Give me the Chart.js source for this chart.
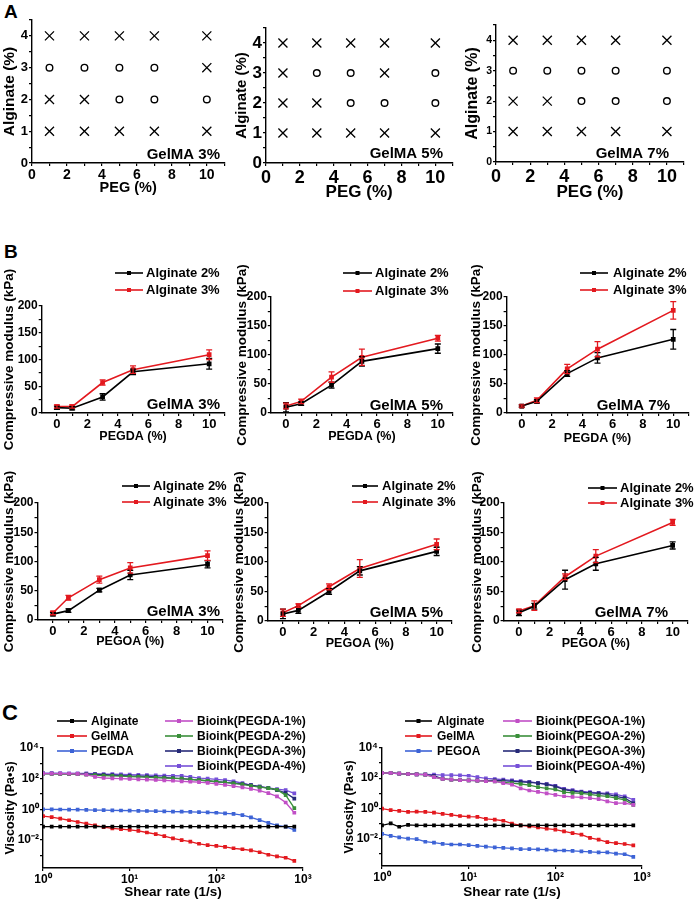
<!DOCTYPE html>
<html>
<head>
<meta charset="utf-8">
<script src="https://cdn.jsdelivr.net/npm/chart.js@4.4.1/dist/chart.umd.min.js"></script>
<style>
  html, body { margin: 0; padding: 0; background: #fff; }
  #fig { position: relative; width: 694px; height: 900px; overflow: hidden; font-family: "Liberation Sans", Arial, sans-serif; }
  #fig canvas { position: absolute; }
  .letter { position: absolute; font-weight: bold; line-height: 1; color: #000; }
</style>
</head>
<body>
<div id="fig">
  <div class="letter" style="left:4px;top:2px;font-size:19px;">A</div>
  <div class="letter" style="left:4px;top:242px;font-size:19px;">B</div>
  <div class="letter" style="left:2px;top:702px;font-size:22px;">C</div>
</div>
<script>
// ---------- A: printability (x = not printable, o = printable) ----------
const PEG_LEVELS = [1, 3, 5, 7, 10];
const ALGINATE_LEVELS = [1, 2, 3, 4];
// one string per alginate level (1..4), one char per PEG level
const GRID_GELMA3 = ['xxxxx', 'xxooo', 'oooox', 'xxxxx'];
const GRID_GELMA5 = ['xxxxx', 'xxooo', 'xooxo', 'xxxxx'];
const GRID_GELMA7 = ['xxxxx', 'xxooo', 'ooooo', 'xxxxx'];
const A_X_TICKS = [0, 1, 2, 3, 4, 5, 6, 7, 8, 9, 10, 11];
const A_Y_TICKS = [0, 0.5, 1, 1.5, 2, 2.5, 3, 3.5, 4, 4.5];

// ---------- B: compressive modulus (kPa) ----------
const PEG_CONC = [0, 1, 3, 5, 10];
const B_X_TICKS = [0, 1, 2, 3, 4, 5, 6, 7, 8, 9, 10, 11];
const B_Y_TICKS = [0, 25, 50, 75, 100, 125, 150, 175, 200];

const PEGDA_G3_ALG2 = [10, 9, 30, 77, 92];
const PEGDA_G3_ALG2_SD = [3, 3, 6, 5, 10];
const PEGDA_G3_ALG3 = [12, 12, 57, 81, 109];
const PEGDA_G3_ALG3_SD = [3, 3, 5, 7, 9];

const PEGDA_G5_ALG2 = [10, 16, 48, 89, 111];
const PEGDA_G5_ALG2_SD = [8, 3, 5, 8, 8];
const PEGDA_G5_ALG3 = [12, 20, 62, 96, 129];
const PEGDA_G5_ALG3_SD = [5, 4, 9, 14, 5];

const PEGDA_G7_ALG2 = [12, 20, 68, 95, 127];
const PEGDA_G7_ALG2_SD = [2, 3, 5, 9, 17];
const PEGDA_G7_ALG3 = [12, 22, 76, 110, 177];
const PEGDA_G7_ALG3_SD = [2, 4, 8, 13, 15];

const PEGOA_G3_ALG2 = [10, 16, 51, 77, 95];
const PEGOA_G3_ALG2_SD = [3, 3, 3, 8, 6];
const PEGOA_G3_ALG3 = [12, 38, 69, 89, 110];
const PEGOA_G3_ALG3_SD = [3, 4, 6, 9, 8];

const PEGOA_G5_ALG2 = [12, 18, 50, 85, 118];
const PEGOA_G5_ALG2_SD = [8, 5, 5, 7, 7];
const PEGOA_G5_ALG3 = [14, 26, 58, 89, 130];
const PEGOA_G5_ALG3_SD = [6, 3, 5, 15, 9];

const PEGOA_G7_ALG2 = [14, 25, 70, 97, 128];
const PEGOA_G7_ALG2_SD = [5, 5, 16, 11, 6];
const PEGOA_G7_ALG3 = [17, 26, 75, 110, 167];
const PEGOA_G7_ALG3_SD = [3, 8, 5, 11, 5];

// ---------- C: viscosity (Pa·s) vs shear rate (1/s) ----------
const SHEAR_RATE = [1, 1.26, 1.58, 2, 2.51, 3.16, 3.98, 5.01, 6.31, 7.94, 10, 12.6, 15.8, 20, 25.1, 31.6, 39.8, 50.1, 63.1, 79.4, 100, 126, 158, 200, 251, 316, 398, 501, 631, 794];
const C_X_TICKS = [1, 10, 100, 1000];
const C_Y_EXPONENTS = [-3, -2, -1, 0, 1, 2, 3, 4];

const ALGINATE_C1 = [0.075, 0.075, 0.075, 0.075, 0.075, 0.075, 0.075, 0.075, 0.075, 0.075, 0.075, 0.075, 0.075, 0.075, 0.075, 0.075, 0.075, 0.075, 0.075, 0.075, 0.075, 0.075, 0.075, 0.075, 0.075, 0.075, 0.075, 0.075, 0.075, 0.075];
const GELMA_C1 = [0.36, 0.31, 0.25, 0.195, 0.15, 0.117, 0.09, 0.07, 0.057, 0.052, 0.046, 0.04, 0.031, 0.024, 0.018, 0.013, 0.01, 0.0078, 0.0057, 0.0046, 0.0042, 0.0036, 0.0029, 0.0025, 0.0021, 0.0016, 0.0011, 0.00086, 0.0007, 0.00044];
const PEGDA_C1 = [1.0, 1.0, 0.98, 0.97, 0.95, 0.93, 0.9, 0.88, 0.86, 0.84, 0.82, 0.8, 0.78, 0.76, 0.74, 0.72, 0.7, 0.68, 0.66, 0.63, 0.6, 0.55, 0.5, 0.42, 0.3, 0.2, 0.13, 0.09, 0.075, 0.045];
const BIOINK1_C1 = [216, 214, 212, 210, 205, 185, 130, 111, 105, 100, 95, 90, 86, 82, 77, 73, 67, 63, 60, 54, 46, 40, 33, 27, 21.5, 16.8, 11.6, 7, 2.8, 0.6];
const BIOINK2_C1 = [205, 205, 200, 200, 195, 185, 170, 160, 150, 145, 138, 130, 124, 118, 111, 105, 100, 90, 82, 73, 63, 57, 49, 42, 34, 28, 24, 19, 8.5, 1.2];
const BIOINK3_C1 = [216, 216, 210, 205, 200, 195, 190, 180, 170, 160, 150, 145, 140, 130, 120, 110, 100, 90, 80, 72, 63, 58, 52, 45, 38, 30, 24, 18, 12, 5];
const BIOINK4_C1 = [230, 230, 228, 225, 222, 220, 210, 200, 195, 190, 185, 175, 170, 165, 160, 155, 150, 130, 110, 100, 90, 80, 68, 52, 38, 30, 25, 21, 18, 11];

const ALGINATE_C2 = [0.075, 0.1, 0.06, 0.08, 0.075, 0.075, 0.075, 0.075, 0.075, 0.075, 0.075, 0.075, 0.075, 0.075, 0.075, 0.075, 0.075, 0.075, 0.075, 0.075, 0.075, 0.075, 0.075, 0.075, 0.075, 0.075, 0.075, 0.075, 0.075, 0.075];
const GELMA_C2 = [0.97, 0.75, 0.68, 0.58, 0.61, 0.58, 0.52, 0.43, 0.37, 0.31, 0.28, 0.27, 0.2, 0.18, 0.15, 0.097, 0.075, 0.064, 0.055, 0.045, 0.039, 0.03, 0.023, 0.018, 0.011, 0.0083, 0.0058, 0.005, 0.0043, 0.0035];
const PEGOA_C2 = [0.02, 0.015, 0.0117, 0.0099, 0.0091, 0.0061, 0.0054, 0.0044, 0.004, 0.004, 0.0036, 0.0032, 0.0029, 0.0026, 0.0024, 0.0022, 0.002, 0.002, 0.0019, 0.0018, 0.0016, 0.0016, 0.0015, 0.0014, 0.0013, 0.0012, 0.0012, 0.001, 0.0009, 0.00061];
const BIOINK1_C2 = [220, 220, 198, 189, 179, 170, 119, 88, 79, 75, 71, 68, 64, 61, 47, 37, 21, 15.2, 12.4, 9.7, 7.9, 6.3, 5.7, 5.4, 4.8, 4.1, 2.9, 2.2, 2.2, 1.7];
const BIOINK2_C2 = [220, 220, 198, 189, 179, 170, 119, 88, 79, 75, 71, 68, 64, 61, 52, 47, 41, 35, 25.6, 21, 17.7, 11.8, 10.7, 9.7, 8.3, 6.9, 6.3, 4.8, 3.7, 1.7];
const BIOINK3_C2 = [220, 220, 198, 189, 179, 170, 145, 88, 79, 75, 71, 68, 68, 71, 68, 61, 58, 52, 47, 39, 28.5, 17.7, 13.7, 11.8, 10.7, 9.7, 8.3, 6.3, 4.8, 2.2];
const BIOINK4_C2 = [220, 220, 198, 189, 179, 179, 170, 161, 161, 153, 145, 119, 97, 88, 79, 71, 64, 58, 47, 41, 31.5, 19.6, 15.9, 13.1, 11.8, 10.7, 9.7, 8.3, 6.3, 3.7];

const COLORS = {
  black: '#000000',
  red: '#e3191f',
  blue: '#3d63d6',
  magenta: '#c14fc6',
  green: '#3a8f3a',
  navy: '#262a78',
  purple: '#7650d8',
};

const FONT = '"Liberation Sans", Arial, Helvetica, sans-serif';
const bold = (size) => ({ family: FONT, weight: 'bold', size, lineHeight: 1.2 });

// ---------- plugins ----------
const errorBarsPlugin = {
  id: 'errorBars',
  afterDatasetsDraw(chart) {
    const { ctx } = chart;
    const yScale = chart.scales.y;
    chart.data.datasets.forEach((ds, i) => {
      if (!ds.errorBars) return;
      const meta = chart.getDatasetMeta(i);
      ctx.save();
      ctx.strokeStyle = ds.borderColor;
      ctx.lineWidth = 1.3;
      meta.data.forEach((pt, j) => {
        const v = ds.data[j].y;
        const e = ds.errorBars[j];
        const top = yScale.getPixelForValue(v + e);
        const bot = yScale.getPixelForValue(Math.max(v - e, 0));
        ctx.beginPath();
        ctx.moveTo(pt.x, top); ctx.lineTo(pt.x, bot);
        ctx.moveTo(pt.x - 3, top); ctx.lineTo(pt.x + 3, top);
        ctx.moveTo(pt.x - 3, bot); ctx.lineTo(pt.x + 3, bot);
        ctx.stroke();
      });
      ctx.restore();
    });
  },
};

// legend drawn in columns at fixed spots (Origin style)
const sideLegendPlugin = {
  id: 'sideLegend',
  afterDraw(chart, args, opts) {
    if (!opts.cols) return;
    const { ctx } = chart;
    ctx.save();
    ctx.font = `bold ${opts.fontSize}px ${FONT}`;
    ctx.textBaseline = 'middle';
    ctx.fillStyle = '#000';
    chart.data.datasets.forEach((ds, i) => {
      const col = i < opts.split ? 0 : 1;
      const row = i < opts.split ? i : i - opts.split;
      const [x0, x1, tx] = opts.cols[col];
      const y = opts.rows[row];
      ctx.strokeStyle = ds.borderColor;
      ctx.lineWidth = 1.6;
      ctx.beginPath();
      ctx.moveTo(x0, y); ctx.lineTo(x1, y);
      ctx.stroke();
      ctx.fillStyle = ds.borderColor;
      ctx.fillRect((x0 + x1) / 2 - 2, y - 2, 4, 4);
      ctx.fillStyle = '#000';
      ctx.fillText(ds.label, tx, y + 0.5);
    });
    ctx.restore();
  },
};

const cornerNotePlugin = {
  id: 'cornerNote',
  afterDraw(chart, args, opts) {
    if (!opts.text) return;
    const { ctx } = chart;
    ctx.save();
    ctx.font = `bold ${opts.fontSize}px ${FONT}`;
    ctx.textAlign = 'right';
    ctx.textBaseline = 'middle';
    ctx.fillStyle = '#000';
    ctx.fillText(opts.text, opts.x, opts.y);
    ctx.restore();
  },
};

Chart.register(errorBarsPlugin, sideLegendPlugin, cornerNotePlugin);

// ---------- helpers ----------
const SUP = { '-': '\u207B', '0': '\u2070', '1': '\u00B9', '2': '\u00B2', '3': '\u00B3', '4': '\u2074', '5': '\u2075', '6': '\u2076', '7': '\u2077', '8': '\u2078', '9': '\u2079' };
const pow10Label = (v) => '10' + String(Math.round(Math.log10(v))).split('').map((c) => SUP[c]).join('');

function axis(o) {
  return {
    type: o.type || 'linear',
    min: o.min,
    max: o.max,
    afterBuildTicks: (s) => { s.ticks = o.ticks.map((v) => ({ value: v })); },
    border: { display: true, color: '#000', width: 1.4 },
    grid: { drawOnChartArea: false, drawTicks: true, tickLength: 3, color: '#000', lineWidth: 1.2 },
    ticks: {
      color: '#000', autoSkip: false, maxRotation: 0, minRotation: 0, padding: 1,
      font: bold(o.tickSize), callback: o.label,
    },
    title: { display: true, text: o.title, color: '#000', font: bold(o.titleSize), padding: { top: 0, bottom: 0 } },
  };
}

function buildChart(cfg) {
  const { rect, area } = cfg;
  const fig = document.getElementById('fig');
  const canvas = document.createElement('canvas');
  canvas.width = rect.w;
  canvas.height = rect.h;
  canvas.style.left = rect.x + 'px';
  canvas.style.top = rect.y + 'px';
  canvas.style.width = rect.w + 'px';
  canvas.style.height = rect.h + 'px';
  fig.appendChild(canvas);

  const xLh = cfg.x.title.font.size * 1.2;
  const yLh = cfg.y.title.font.size * 1.2;
  const padBottom = rect.y + rect.h - (cfg.xTitleY + xLh / 2);
  const xHeight = cfg.xTitleY + xLh / 2 - area.b;
  const yWidth = area.l - rect.x;
  cfg.y.title.padding = { top: Math.max(cfg.yTitleX - rect.x - yLh / 2, 0), bottom: 0 };

  // legend / note coordinates are given on the page; move them into the canvas
  const legend = cfg.legend ? {
    fontSize: cfg.legend.fontSize,
    split: cfg.legend.split,
    cols: cfg.legend.cols.map(([a, b, c]) => [a - rect.x, b - rect.x, c - rect.x]),
    rows: cfg.legend.rows.map((y) => y - rect.y),
  } : {};
  const note = cfg.note ? { text: cfg.note.text, fontSize: cfg.note.fontSize, x: cfg.note.x - rect.x, y: cfg.note.y - rect.y } : {};

  return new Chart(canvas, {
    type: cfg.type,
    data: { datasets: cfg.datasets },
    options: {
      responsive: false,
      animation: false,
      devicePixelRatio: 1,
      events: [],
      layout: { padding: { left: 0, top: area.t - rect.y, right: rect.x + rect.w - area.r, bottom: padBottom } },
      plugins: { legend: { display: false }, tooltip: { enabled: false }, sideLegend: legend, cornerNote: note },
      scales: {
        x: { ...cfg.x, position: 'bottom', afterFit: (s) => { s.height = xHeight; } },
        y: { ...cfg.y, position: 'left', afterFit: (s) => { s.width = yWidth; } },
      },
    },
  });
}

// ---------- A ----------
function gridPoints(grid, mark) {
  const pts = [];
  grid.forEach((row, a) => {
    row.split('').forEach((c, p) => {
      if (c === mark) pts.push({ x: PEG_LEVELS[p], y: ALGINATE_LEVELS[a] });
    });
  });
  return pts;
}

function printSets(grid) {
  return [
    { label: 'not printable', data: gridPoints(grid, 'x'), pointStyle: 'crossRot', pointRadius: 6.4, borderColor: '#000', borderWidth: 1.3, backgroundColor: '#000' },
    { label: 'printable', data: gridPoints(grid, 'o'), pointStyle: 'circle', pointRadius: 3.3, borderColor: '#000', borderWidth: 1.4, backgroundColor: 'rgba(0,0,0,0)' },
  ];
}

const aPanels = [
  { grid: GRID_GELMA3, note: 'GelMA 3%', rect: { x: 0, y: 0, w: 232, h: 205 }, area: { l: 32, t: 20, r: 231, b: 163 }, xTitleY: 188, yTitleX: 10, xt: 14, yt: 13, xs: 14.5, ys: 15.5, noteX: 220, noteY: 155 },
  { grid: GRID_GELMA5, note: 'GelMA 5%', rect: { x: 232, y: 0, w: 228, h: 205 }, area: { l: 266, t: 28, r: 455, b: 163 }, xTitleY: 192, yTitleX: 242, xt: 18, yt: 17, xs: 17, ys: 15, noteX: 443, noteY: 154 },
  { grid: GRID_GELMA7, note: 'GelMA 7%', rect: { x: 460, y: 0, w: 234, h: 205 }, area: { l: 496, t: 25, r: 684, b: 162 }, xTitleY: 192, yTitleX: 473, xt: 18, yt: 10.5, xs: 17, ys: 16, noteX: 669, noteY: 154 },
];

aPanels.forEach((p) => {
  buildChart({
    type: 'scatter',
    rect: p.rect, area: p.area, xTitleY: p.xTitleY, yTitleX: p.yTitleX,
    datasets: printSets(p.grid),
    x: axis({ min: 0, max: 11, ticks: A_X_TICKS, title: 'PEG (%)', titleSize: p.xs, tickSize: p.xt, label: (v) => (v % 2 === 0 ? String(v) : '') }),
    y: axis({ min: 0, max: 4.5, ticks: A_Y_TICKS, title: 'Alginate (%)', titleSize: p.ys, tickSize: p.yt, label: (v) => (Number.isInteger(v) ? String(v) : '') }),
    note: { text: p.note, fontSize: 15, x: p.noteX, y: p.noteY },
  });
});

// ---------- B ----------
function modulusSets(alg2, alg2Sd, alg3, alg3Sd) {
  const line = { borderWidth: 1.6, pointStyle: 'rect', pointRadius: 2.2, tension: 0 };
  return [
    { label: 'Alginate 2%', data: PEG_CONC.map((x, i) => ({ x, y: alg2[i] })), errorBars: alg2Sd, borderColor: COLORS.black, backgroundColor: COLORS.black, ...line },
    { label: 'Alginate 3%', data: PEG_CONC.map((x, i) => ({ x, y: alg3[i] })), errorBars: alg3Sd, borderColor: COLORS.red, backgroundColor: COLORS.red, ...line },
  ];
}

const bPanels = [
  { xTitle: 'PEGDA (%)', note: 'GelMA 3%', sets: [PEGDA_G3_ALG2, PEGDA_G3_ALG2_SD, PEGDA_G3_ALG3, PEGDA_G3_ALG3_SD],
    rect: { x: 0, y: 238, w: 230, h: 217 }, area: { l: 41.7, t: 306, r: 225, b: 413 }, xTitleY: 437, yTitleX: 9,
    legend: { cols: [[115, 143, 146]], rows: [273, 290] }, noteX: 220, noteY: 405 },
  { xTitle: 'PEGDA (%)', note: 'GelMA 5%', sets: [PEGDA_G5_ALG2, PEGDA_G5_ALG2_SD, PEGDA_G5_ALG3, PEGDA_G5_ALG3_SD],
    rect: { x: 230, y: 238, w: 230, h: 217 }, area: { l: 270.8, t: 297, r: 453, b: 413 }, xTitleY: 437, yTitleX: 242,
    legend: { cols: [[343, 372, 375]], rows: [273, 291] }, noteX: 443, noteY: 406 },
  { xTitle: 'PEGDA (%)', note: 'GelMA 7%', sets: [PEGDA_G7_ALG2, PEGDA_G7_ALG2_SD, PEGDA_G7_ALG3, PEGDA_G7_ALG3_SD],
    rect: { x: 460, y: 238, w: 234, h: 217 }, area: { l: 506.6, t: 297, r: 691, b: 413 }, xTitleY: 439, yTitleX: 476,
    legend: { cols: [[580, 608, 613]], rows: [273, 290] }, noteX: 670, noteY: 406 },
  { xTitle: 'PEGOA (%)', note: 'GelMA 3%', sets: [PEGOA_G3_ALG2, PEGOA_G3_ALG2_SD, PEGOA_G3_ALG3, PEGOA_G3_ALG3_SD],
    rect: { x: 0, y: 455, w: 230, h: 215 }, area: { l: 37.5, t: 503, r: 223, b: 620 }, xTitleY: 642, yTitleX: 9,
    legend: { cols: [[122, 150, 153]], rows: [486, 502] }, noteX: 220, noteY: 612 },
  { xTitle: 'PEGOA (%)', note: 'GelMA 5%', sets: [PEGOA_G5_ALG2, PEGOA_G5_ALG2_SD, PEGOA_G5_ALG3, PEGOA_G5_ALG3_SD],
    rect: { x: 230, y: 455, w: 230, h: 215 }, area: { l: 267.6, t: 503, r: 452, b: 621 }, xTitleY: 644, yTitleX: 239,
    legend: { cols: [[352, 378, 382]], rows: [486, 502] }, noteX: 443, noteY: 613 },
  { xTitle: 'PEGOA (%)', note: 'GelMA 7%', sets: [PEGOA_G7_ALG2, PEGOA_G7_ALG2_SD, PEGOA_G7_ALG3, PEGOA_G7_ALG3_SD],
    rect: { x: 460, y: 455, w: 234, h: 215 }, area: { l: 503.6, t: 503, r: 688, b: 621 }, xTitleY: 644, yTitleX: 477,
    legend: { cols: [[588, 617, 620]], rows: [488, 503] }, noteX: 668, noteY: 613 },
];

bPanels.forEach((p) => {
  buildChart({
    type: 'line',
    rect: p.rect, area: p.area, xTitleY: p.xTitleY, yTitleX: p.yTitleX,
    datasets: modulusSets(...p.sets),
    x: axis({ min: -1, max: 11, ticks: B_X_TICKS, title: p.xTitle, titleSize: 12.5, tickSize: 13, label: (v) => (v % 2 === 0 ? String(v) : '') }),
    y: axis({ min: 0, max: 200, ticks: B_Y_TICKS, title: 'Compressive modulus (kPa)', titleSize: 13.5, tickSize: 12, label: (v) => (v % 50 === 0 ? String(v) : '') }),
    legend: { fontSize: 13, split: 2, cols: p.legend.cols, rows: p.legend.rows },
    note: { text: p.note, fontSize: 15, x: p.noteX, y: p.noteY },
  });
});

// ---------- C ----------
function viscositySets(peg, series) {
  const names = ['Alginate', 'GelMA', peg, `Bioink(${peg}-1%)`, `Bioink(${peg}-2%)`, `Bioink(${peg}-3%)`, `Bioink(${peg}-4%)`];
  const colors = [COLORS.black, COLORS.red, COLORS.blue, COLORS.magenta, COLORS.green, COLORS.navy, COLORS.purple];
  return series.map((vals, k) => ({
    label: names[k],
    data: SHEAR_RATE.map((x, i) => ({ x, y: vals[i] })),
    borderColor: colors[k],
    backgroundColor: colors[k],
    borderWidth: 1.3,
    pointStyle: 'rect',
    pointRadius: 1.7,
    tension: 0,
  }));
}

const cPanels = [
  { peg: 'PEGDA', series: [ALGINATE_C1, GELMA_C1, PEGDA_C1, BIOINK1_C1, BIOINK2_C1, BIOINK3_C1, BIOINK4_C1],
    rect: { x: 0, y: 700, w: 345, h: 200 }, area: { l: 43, t: 748, r: 303, b: 868 }, xTitleY: 892, yTitleX: 11,
    legend: { cols: [[57, 87, 91], [165, 193, 197]], rows: [721, 736, 751, 766] } },
  { peg: 'PEGOA', series: [ALGINATE_C2, GELMA_C2, PEGOA_C2, BIOINK1_C2, BIOINK2_C2, BIOINK3_C2, BIOINK4_C2],
    rect: { x: 342, y: 700, w: 352, h: 200 }, area: { l: 382, t: 748, r: 642, b: 866 }, xTitleY: 892, yTitleX: 349,
    legend: { cols: [[405, 432, 437], [503, 532, 536]], rows: [721, 736, 751, 766] } },
];

cPanels.forEach((p) => {
  buildChart({
    type: 'line',
    rect: p.rect, area: p.area, xTitleY: p.xTitleY, yTitleX: p.yTitleX,
    datasets: viscositySets(p.peg, p.series),
    x: axis({ type: 'logarithmic', min: 1, max: 1000, ticks: C_X_TICKS, title: 'Shear rate (1/s)', titleSize: 13.5, tickSize: 12, label: pow10Label }),
    y: axis({ type: 'logarithmic', min: 1.5e-4, max: 1e4, ticks: C_Y_EXPONENTS.map((e) => Math.pow(10, e)), title: 'Viscosity (Pa\u2022s)', titleSize: 12.5, tickSize: 12,
      label: (v) => (Math.round(Math.log10(v)) % 2 === 0 ? pow10Label(v) : '') }),
    legend: { fontSize: 12, split: 3, cols: p.legend.cols, rows: p.legend.rows },
  });
});
</script>
</body>
</html>
